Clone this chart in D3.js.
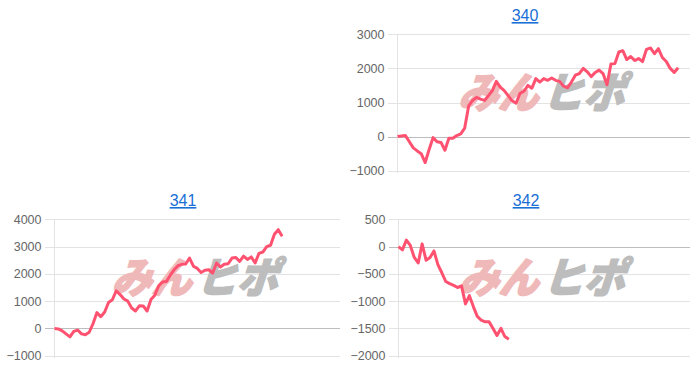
<!DOCTYPE html>
<html>
<head>
<meta charset="utf-8">
<script src="https://cdn.jsdelivr.net/npm/d3@7"></script>
<style>
  body { margin: 0; background: #fff; }
  svg { display: block; font-family: 'Liberation Sans', Arial, sans-serif; }
</style>
</head>
<body>
<div id="chart"></div>
<script>
// chart data
const slotCount = 75;
const titles = ['340', '341', '342'];
const series340 = [0, 20, 30, -150, -330, -420, -500, -760, -380, -30, -150, -170, -400, -50, -50, 30, 80, 250, 900, 1060,
  1150, 1100, 1060, 1200, 1350, 1620, 1450, 1350, 1200, 1050, 980, 1270, 1330, 1500, 1420, 1700, 1600, 1700, 1650, 1720,
  1650, 1620, 1480, 1430, 1600, 1800, 1850, 2000, 1900, 1760, 1880, 1950, 1850, 1520, 2130, 2140, 2480, 2520, 2260, 2350,
  2230, 2290, 2200, 2560, 2600, 2430, 2580, 2320, 2200, 2000, 1880, 2020];
const series341 = [0, -20, -90, -200, -310, -110, -60, -200, -230, -140, 180, 580, 430, 600, 950, 1050, 1380, 1240, 1080, 1000,
  750, 640, 830, 820, 640, 1060, 1220, 1560, 1700, 1720, 1950, 2150, 2300, 2350, 2360, 2580, 2280, 2200, 2050, 2130,
  2150, 2030, 2400, 2250, 2350, 2370, 2580, 2600, 2460, 2650, 2530, 2620, 2400, 2750, 2800, 3000, 3050, 3450, 3620, 3380];
const series342 = [0, -60, 120, 20, -200, -300, 50, -250, -200, -80, -330, -480, -640, -680, -710, -750, -720, -1050, -900, -1100,
  -1280, -1350, -1380, -1380, -1500, -1630, -1500, -1650, -1700];
const ticks340 = [-1000, 0, 1000, 2000, 3000];
const ticks341 = [-1000, 0, 1000, 2000, 3000, 4000];
const ticks342 = [-2000, -1500, -1000, -500, 0, 500];

const svgWidth = 700;
const svgHeight = 370;
const lineColor = '#ff5271';

const svg = d3.select('#chart')
  .append('svg')
  .attr('width', svgWidth)
  .attr('height', svgHeight);

// one entry per small chart
const panels = [
  { title: titles[0], data: series340, ticks: ticks340, left: 397.5, right: 690, top: 34.3, bottom: 170.7, titleX: 525, titleY: 21 },
  { title: titles[1], data: series341, ticks: ticks341, left: 54.5, right: 340, top: 219.3, bottom: 355.7, titleX: 183, titleY: 206 },
  { title: titles[2], data: series342, ticks: ticks342, left: 398.5, right: 690, top: 219.3, bottom: 355.7, titleX: 526, titleY: 206 }
];

const drawPanel = (p) => {
  const g = svg.append('g');
  const plotWidth = p.right - p.left;

  const x = d3.scaleLinear()
    .domain([0, slotCount - 1])
    .range([p.left, p.right]);
  const y = d3.scaleLinear()
    .domain(d3.extent(p.ticks))
    .range([p.bottom, p.top]);

  // y axis placed at the right edge so its ticks become the grid lines
  const leftAxis = d3.axisLeft(y)
    .tickValues(p.ticks)
    .tickSize(plotWidth + 10)
    .tickPadding(3)
    .tickFormat(d3.format('d'));

  const yAxis = g.append('g')
    .attr('transform', `translate(${p.right}, 0)`)
    .call(leftAxis);
  yAxis.select('.domain').remove();
  yAxis.selectAll('.tick line')
    .attr('stroke', d => d === 0 ? '#bdbdbd' : '#e3e3e3')
    .attr('shape-rendering', 'crispEdges');
  yAxis.selectAll('.tick text')
    .attr('fill', '#666')
    .attr('font-size', '12.5px');

  // left axis line
  g.append('line')
    .attr('x1', p.left).attr('x2', p.left)
    .attr('y1', p.top).attr('y2', p.bottom + 2)
    .attr('stroke', '#e3e3e3')
    .attr('shape-rendering', 'crispEdges');

  // watermark
  const midX = (p.left + p.right) / 2 - 2;
  const midY = (p.top + p.bottom) / 2 + 5;
  const mark = g.append('g')
    .attr('transform', `translate(${midX}, ${midY}) skewX(-18)`)
    .attr('font-family', "'Noto Sans CJK JP', sans-serif")
    .attr('font-weight', 900)
    .attr('font-size', '42px')
    .attr('stroke-width', 1.6)
    .attr('stroke-linejoin', 'round');
  mark.append('text')
    .attr('x', -84)
    .attr('y', 0)
    .attr('textLength', 80)
    .attr('lengthAdjust', 'spacingAndGlyphs')
    .attr('fill', '#f0b9b9')
    .attr('stroke', '#f0b9b9')
    .text('みん');
  mark.append('text')
    .attr('x', 0)
    .attr('y', 0)
    .attr('textLength', 82)
    .attr('lengthAdjust', 'spacingAndGlyphs')
    .attr('fill', '#bdbdbd')
    .attr('stroke', '#bdbdbd')
    .text('ヒポ');

  // the line itself
  const line = d3.line()
    .x((d, i) => x(i))
    .y(d => y(d));

  g.append('path')
    .datum(p.data)
    .attr('d', line)
    .attr('fill', 'none')
    .attr('stroke', lineColor)
    .attr('stroke-width', 3)
    .attr('stroke-linejoin', 'round');

  // underlined link-like title
  g.append('text')
    .attr('x', p.titleX)
    .attr('y', p.titleY)
    .attr('text-anchor', 'middle')
    .attr('font-size', '16px')
    .attr('fill', '#1a6fd6')
    .attr('text-decoration', 'underline')
    .text(p.title);
};

panels.forEach(drawPanel);
</script>
</body>
</html>
